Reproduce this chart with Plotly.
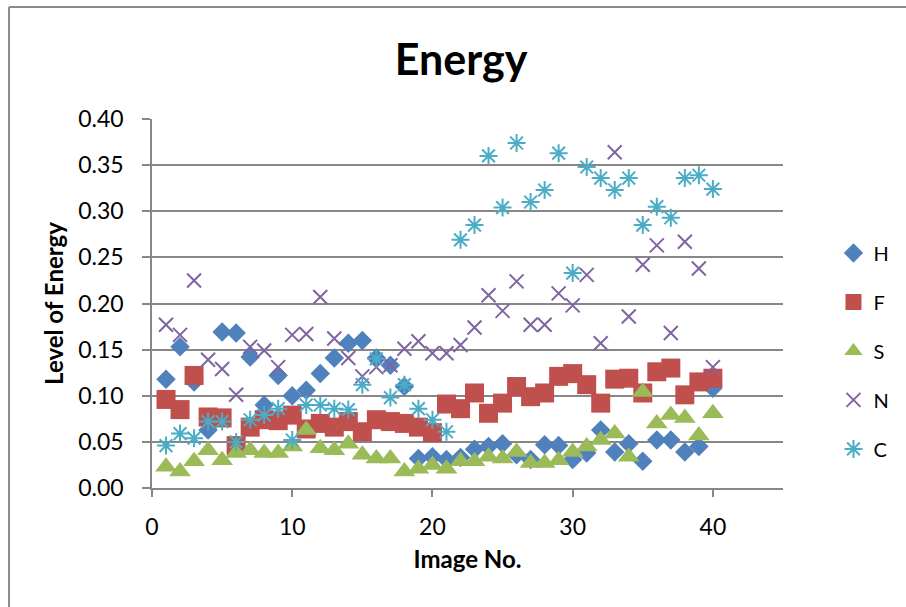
import plotly.graph_objects as go

image_no = list(range(1, 41))

H = [0.118, 0.153, 0.115, 0.063, 0.169, 0.168, 0.142, 0.090, 0.122, 0.100,
     0.106, 0.124, 0.141, 0.157, 0.160, 0.141, 0.133, 0.110, 0.032, 0.034,
     0.031, 0.033, 0.042, 0.045, 0.048, 0.036, 0.031, 0.047, 0.046, 0.031,
     0.038, 0.063, 0.039, 0.048, 0.029, 0.052, 0.052, 0.039, 0.045, 0.108]
F = [0.096, 0.085, 0.122, 0.077, 0.076, 0.046, 0.066, 0.074, 0.073, 0.079,
     0.064, 0.070, 0.066, 0.072, 0.061, 0.074, 0.072, 0.070, 0.066, 0.060,
     0.091, 0.086, 0.103, 0.081, 0.092, 0.110, 0.099, 0.103, 0.121, 0.124,
     0.112, 0.092, 0.118, 0.119, 0.103, 0.126, 0.130, 0.101, 0.115, 0.119]
S = [0.023, 0.018, 0.029, 0.041, 0.030, 0.038, 0.041, 0.038, 0.038, 0.045,
     0.063, 0.043, 0.041, 0.048, 0.036, 0.032, 0.032, 0.018, 0.021, 0.025,
     0.021, 0.029, 0.029, 0.034, 0.032, 0.039, 0.027, 0.027, 0.030, 0.039,
     0.045, 0.052, 0.059, 0.034, 0.104, 0.070, 0.079, 0.076, 0.057, 0.081]
N = [0.177, 0.166, 0.225, 0.139, 0.129, 0.101, 0.153, 0.149, 0.131, 0.166,
     0.167, 0.207, 0.162, 0.141, 0.121, 0.131, 0.133, 0.151, 0.159, 0.146,
     0.146, 0.155, 0.174, 0.209, 0.192, 0.224, 0.177, 0.177, 0.211, 0.198,
     0.231, 0.157, 0.364, 0.186, 0.242, 0.263, 0.168, 0.267, 0.238, 0.131]
C = [0.046, 0.059, 0.054, 0.072, 0.072, 0.050, 0.074, 0.079, 0.086, 0.052,
     0.090, 0.090, 0.086, 0.085, 0.112, 0.140, 0.098, 0.112, 0.086, 0.074,
     0.061, 0.269, 0.285, 0.360, 0.304, 0.374, 0.310, 0.323, 0.363, 0.233,
     0.348, 0.336, 0.323, 0.336, 0.285, 0.305, 0.293, 0.336, 0.339, 0.324]

series = [
    ("H", H, "diamond", "#4F81BD", 15, 0),
    ("F", F, "square", "#C0504D", 19, 0),
    ("S", S, "triangle-up", "#9BBB59", 19, 0),
    ("N", N, "x-thin", "#8064A2", 14, 2),
    ("C", C, "asterisk", "#4BACC6", 15, 2),
]

FONT = "Lato"
GRID = "#878787"

fig = go.Figure()
for name, vals, sym, col, size, lw in series:
    fig.add_trace(go.Scatter(
        x=image_no, y=vals, mode="markers", name=name, legendgroup=name,
        marker=dict(symbol=sym, color=col, size=size,
                    line=dict(color=col, width=lw)),
    ))

fig.update_layout(
    width=906, height=607,
    margin=dict(l=152, r=114, t=119, b=119),
    paper_bgcolor="white", plot_bgcolor="white",
    font=dict(family=FONT, color="black"),
    title=dict(text="<b>Energy</b>", x=461 / 906, xanchor="center",
               y=1 - 60 / 607, yanchor="middle",
               font=dict(family=FONT, size=43, color="black")),
    showlegend=True,
    legend=dict(x=1.08, xanchor="left", y=0.69, yanchor="top",
                font=dict(family=FONT, size=20, color="black"),
                tracegroupgap=20, itemsizing="trace",
                bgcolor="rgba(0,0,0,0)"),
    xaxis=dict(range=[0, 45], dtick=10, tick0=0, showgrid=False,
               zeroline=False, showline=True, linecolor=GRID, linewidth=1.5,
               ticks="outside", ticklen=7, tickcolor=GRID, tickwidth=1.5,
               tickfont=dict(family=FONT, size=23, color="black"),
               ticklabelstandoff=11,
               title=dict(text="<b>Image No.</b>", standoff=12,
                          font=dict(family=FONT, size=24, color="black"))),
    yaxis=dict(range=[0, 0.4], dtick=0.05, tick0=0, tickformat=".2f",
               showgrid=True, gridcolor=GRID, gridwidth=1.5,
               zeroline=False, showline=True, linecolor=GRID, linewidth=1.5,
               ticks="outside", ticklen=8, tickcolor=GRID, tickwidth=1.5,
               tickfont=dict(family=FONT, size=23, color="black"),
               ticklabelstandoff=14,
               title=dict(text="<b>Level of Energy</b>", standoff=8,
                          font=dict(family=FONT, size=24, color="black"))),
    shapes=[
        dict(type="line", xref="paper", yref="paper",
             x0=(7 - 152) / 640, x1=(7 - 152) / 640,
             y0=(488 - 7) / 369, y1=(488 - 640) / 369,
             line=dict(color="#8a8a8a", width=2)),
        dict(type="line", xref="paper", yref="paper",
             x0=(7 - 152) / 640, x1=(950 - 152) / 640,
             y0=(488 - 7) / 369, y1=(488 - 7) / 369,
             line=dict(color="#8a8a8a", width=2)),
    ],
)

fig.write_html("out.html")
